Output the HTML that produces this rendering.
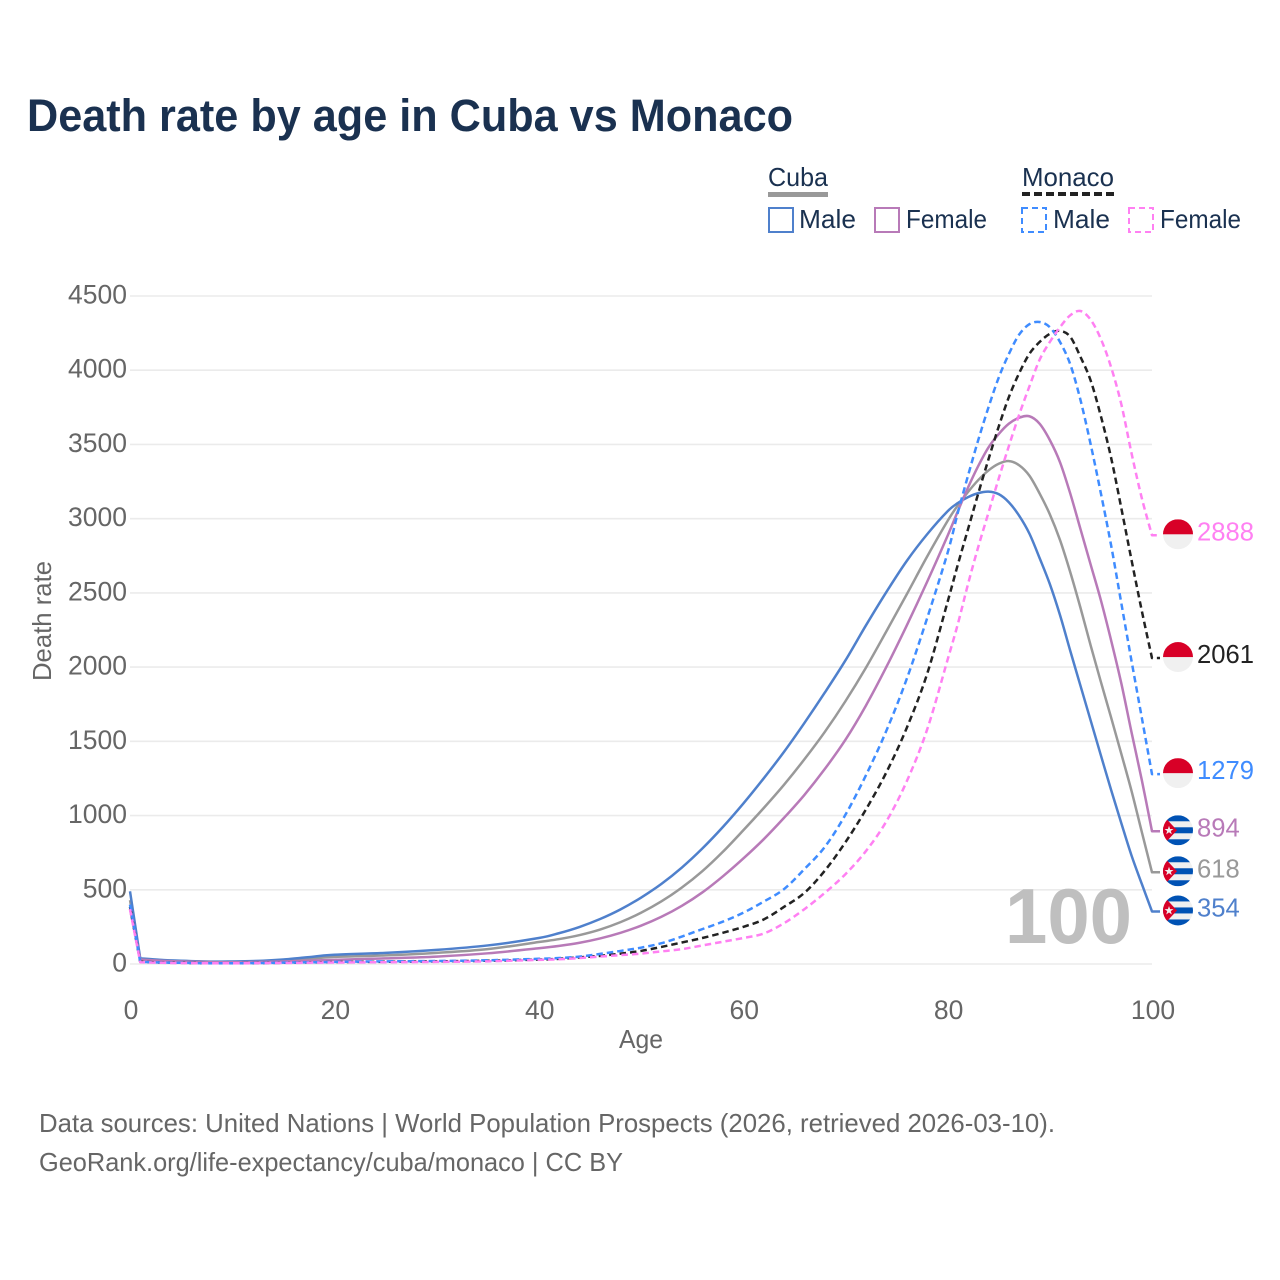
<!DOCTYPE html>
<html lang="en">
<head>
<meta charset="utf-8">
<title>Death rate by age in Cuba vs Monaco</title>
<style>
html,body{margin:0;padding:0;background:#fff;}
svg{display:block;}
text{font-family:"Liberation Sans",sans-serif;}
</style>
</head>
<body>
<svg id="chart" xmlns="http://www.w3.org/2000/svg" width="1280" height="1280" viewBox="0 0 1280 1280">
  <defs>
    <clipPath id="flag-clip"><circle cx="0" cy="0" r="15"/></clipPath>
  </defs>
  <rect x="0" y="0" width="1280" height="1280" fill="#fff"/>
  <text x="27" y="131" font-size="45" font-weight="700" fill="#1a3150" textLength="766" lengthAdjust="spacingAndGlyphs">Death rate by age in Cuba vs Monaco</text>

  <g font-size="26" fill="#1a3150">
    <text x="768" y="186" textLength="60" lengthAdjust="spacingAndGlyphs">Cuba</text>
    <rect x="768" y="192" width="60" height="5" fill="#999"/>
    <text x="1022" y="186" textLength="92" lengthAdjust="spacingAndGlyphs">Monaco</text>
    <line x1="1022" y1="194" x2="1114" y2="194" stroke="#222" stroke-width="4" stroke-dasharray="8 4"/>

    <rect x="769" y="208" width="24" height="24" fill="none" stroke="#4f80cc" stroke-width="2"/>
    <text x="799" y="228" textLength="57" lengthAdjust="spacingAndGlyphs">Male</text>
    <rect x="875" y="208" width="24" height="24" fill="none" stroke="#b87ab8" stroke-width="2"/>
    <text x="906" y="228" textLength="81" lengthAdjust="spacingAndGlyphs">Female</text>
    <rect x="1022" y="208" width="24" height="24" fill="none" stroke="#3f8cff" stroke-width="2" stroke-dasharray="6 4"/>
    <text x="1053" y="228" textLength="57" lengthAdjust="spacingAndGlyphs">Male</text>
    <rect x="1129" y="208" width="24" height="24" fill="none" stroke="#ff80f2" stroke-width="2" stroke-dasharray="6 4"/>
    <text x="1160" y="228" textLength="81" lengthAdjust="spacingAndGlyphs">Female</text>
  </g>

  <g id="grid"></g>
  <g id="y-ticks"></g>
  <g id="x-ticks"></g>

  <text transform="translate(51,621) rotate(-90)" text-anchor="middle" font-size="26" fill="#666" textLength="120" lengthAdjust="spacingAndGlyphs">Death rate</text>
  <text x="641" y="1048" text-anchor="middle" font-size="26" fill="#666" textLength="44" lengthAdjust="spacingAndGlyphs">Age</text>

  <text x="1005" y="943" font-size="78" font-weight="700" fill="#bfbfbf" textLength="127" lengthAdjust="spacingAndGlyphs">100</text>

  <g id="series"></g>
  <g id="ends"></g>

  <text x="39" y="1132" font-size="26" fill="#666" textLength="1016" lengthAdjust="spacingAndGlyphs">Data sources: United Nations | World Population Prospects (2026, retrieved 2026-03-10).</text>
  <text x="39" y="1171" font-size="26" fill="#666" textLength="584" lengthAdjust="spacingAndGlyphs">GeoRank.org/life-expectancy/cuba/monaco | CC BY</text>
</svg>

<script>
const ages = [0,1,3,5,8,10,13,15,18,20,25,30,35,
  40,42,44,46,48,50,52,54,56,58,60,62,64,66,68,70,72,74,76,78,80,
  81,82,83,84,85,86,87,88,89,90,91,92,93,94,95,96,97,98,99,100];

const cubaMale = [490,38,28,22,16,17,22,30,50,62,75,95,125,
  175,208,250,303,368,447,540,650,778,922,1080,1250,1430,1625,1830,2045,2280,2505,2715,2895,3050,
  3105,3145,3172,3182,3165,3110,3020,2900,2735,2560,2350,2110,1875,1640,1405,1172,948,730,540,354];

const cubaTotal = [430,35,26,20,15,15,18,24,38,48,58,75,100,
  148,168,195,232,282,345,422,515,625,755,900,1050,1208,1380,1565,1770,1995,2240,2490,2745,2985,
  3090,3180,3260,3325,3370,3388,3360,3290,3170,3030,2856,2640,2400,2145,1900,1660,1415,1165,890,618];

const cubaFemale = [370,30,22,17,13,12,14,17,24,28,38,50,72,
  106,122,143,172,210,258,318,392,482,590,710,840,985,1140,1315,1510,1740,2000,2280,2575,2885,
  3050,3210,3355,3480,3570,3640,3680,3690,3640,3530,3380,3170,2930,2690,2450,2180,1890,1560,1240,894];

const monacoMale = [400,15,10,8,5,5,7,9,12,14,18,20,25,
  35,40,50,68,88,110,140,185,235,285,345,420,505,640,790,1005,1270,1570,1920,2330,2770,
  3040,3290,3530,3750,3950,4110,4240,4310,4325,4290,4190,4040,3800,3500,3170,2820,2430,2040,1660,1279];

const monacoTotal = [385,15,10,8,5,5,7,8,11,13,15,18,22,
  30,35,45,55,70,88,115,145,175,210,250,300,385,480,630,820,1040,1290,1590,1955,2440,
  2690,2930,3170,3400,3620,3820,3980,4110,4190,4245,4265,4225,4090,3930,3690,3410,3070,2720,2380,2061];

const monacoFemale = [370,12,8,6,5,5,6,7,9,10,12,14,18,
  28,32,40,50,60,70,85,100,125,150,175,205,275,370,480,605,760,960,1230,1580,2050,
  2290,2560,2810,3040,3270,3490,3700,3890,4070,4190,4290,4370,4399,4340,4210,4020,3770,3440,3139,2888];

const yTicks = [0,500,1000,1500,2000,2500,3000,3500,4000,4500];
const xTicks = [0,20,40,60,80,100];

const NS = 'http://www.w3.org/2000/svg';
const xScale = a => 130 + (a / 100) * 1022;
const yScale = v => 964 - (v / 4500) * 668;

function mk(tag, attrs, parent) {
  const el = document.createElementNS(NS, tag);
  for (const k in attrs) el.setAttribute(k, attrs[k]);
  parent.appendChild(el);
  return el;
}

const gridG = document.getElementById('grid');
const yG = document.getElementById('y-ticks');
yTicks.forEach(t => {
  const ln = mk('line', {x1:130, x2:1152, y1:yScale(t), y2:yScale(t), stroke:'#ebebeb', 'stroke-width':1.6}, gridG);
  
  
  const tx = mk('text', {x:127, y:yScale(t) + 7.5, 'text-anchor':'end', 'font-size':26.5, fill:'#666'}, yG);
  
  
  tx.textContent = t;
});

const xG = document.getElementById('x-ticks');
xTicks.forEach(t => {
  const tx = mk('text', {x:xScale(t) + 1, y:1019, 'text-anchor':'middle', 'font-size':26.5, fill:'#666'}, xG);
  
  
  tx.textContent = t;
});

function linePath(vals) {
  const pts = ages.map((a, i) => [xScale(a), yScale(vals[i])]);
  let d = 'M' + pts[0][0].toFixed(2) + ' ' + pts[0][1].toFixed(2);
  d += ' L' + pts[1][0].toFixed(2) + ' ' + pts[1][1].toFixed(2);
  for (let i = 1; i < pts.length - 1; i++) {
    const p0 = pts[i - 1], p1 = pts[i], p2 = pts[i + 1], p3 = pts[Math.min(i + 2, pts.length - 1)];
    const prev = i === 1 ? p1 : p0;
    const c1x = p1[0] + (p2[0] - prev[0]) / 6, c1y = p1[1] + (p2[1] - prev[1]) / 6;
    const c2x = p2[0] - (p3[0] - p1[0]) / 6, c2y = p2[1] - (p3[1] - p1[1]) / 6;
    d += ' C' + c1x.toFixed(2) + ' ' + c1y.toFixed(2) + ' ' + c2x.toFixed(2) + ' ' + c2y.toFixed(2) + ' ' + p2[0].toFixed(2) + ' ' + p2[1].toFixed(2);
  }
  d += ' L' + (xScale(100) + 8) + ' ' + yScale(vals[vals.length - 1]).toFixed(2);
  return d;
}

const seriesG = document.getElementById('series');
function drawLine(vals, color, dash, name) {
  const attrs = {d:linePath(vals), fill:'none', stroke:color, 'stroke-width':2.5, 'stroke-linejoin':'round'};
  if (dash) attrs['stroke-dasharray'] = '6.5 4';
  const p = mk('path', attrs, seriesG);
  
  
}
drawLine(cubaTotal, '#999999', false, 'line-cuba-total');
drawLine(cubaMale, '#4f80cc', false, 'line-cuba-male');
drawLine(cubaFemale, '#b87ab8', false, 'line-cuba-female');
drawLine(monacoTotal, '#222222', true, 'line-monaco-total');
drawLine(monacoMale, '#3f8cff', true, 'line-monaco-male');
drawLine(monacoFemale, '#ff80f2', true, 'line-monaco-female');

const endsG = document.getElementById('ends');
function drawCuba(g) {
  const f = mk('g', {'clip-path':'url(#flag-clip)'}, g);
  mk('rect', {x:-15, y:-15, width:30, height:30, fill:'#f0f0f0'}, f);
  mk('rect', {x:-15, y:-15, width:30, height:6, fill:'#0052b4'}, f);
  mk('rect', {x:-15, y:-3, width:30, height:6, fill:'#0052b4'}, f);
  mk('rect', {x:-15, y:9, width:30, height:6, fill:'#0052b4'}, f);
  mk('polygon', {points:'-15,-15 -15,15 -1,0', fill:'#d80027'}, f);
  mk('polygon', {points:'-9,-4.5 -7.9,-1.3 -4.5,-1.3 -7.2,0.7 -6.2,4 -9,2 -11.8,4 -10.8,0.7 -13.5,-1.3 -10.1,-1.3', fill:'#f0f0f0'}, f);
}
function drawMonaco(g) {
  const f = mk('g', {'clip-path':'url(#flag-clip)'}, g);
  mk('rect', {x:-15, y:-15, width:30, height:30, fill:'#f0f0f0'}, f);
  mk('rect', {x:-15, y:-15, width:30, height:15, fill:'#d80027'}, f);
}
function drawEnd(vals, color, drawFlag, flagName, labelName) {
  const last = vals[vals.length - 1];
  const y = yScale(last);
  const g = mk('g', {transform:'translate(1178,' + (y - 1).toFixed(2) + ')'}, endsG);
  
  
  drawFlag(g);
  const tx = mk('text', {x:1197, y:y + 5, 'font-size':25.6, fill:color}, endsG);
  
  
  tx.textContent = last;
}
drawEnd(monacoFemale, '#ff80f2', drawMonaco, 'flag-monaco-female', 'end-label-monaco-female');
drawEnd(monacoTotal, '#222222', drawMonaco, 'flag-monaco-total', 'end-label-monaco-total');
drawEnd(monacoMale, '#3f8cff', drawMonaco, 'flag-monaco-male', 'end-label-monaco-male');
drawEnd(cubaFemale, '#b87ab8', drawCuba, 'flag-cuba-female', 'end-label-cuba-female');
drawEnd(cubaTotal, '#999999', drawCuba, 'flag-cuba-total', 'end-label-cuba-total');
drawEnd(cubaMale, '#4f80cc', drawCuba, 'flag-cuba-male', 'end-label-cuba-male');
</script>
</body>
</html>
